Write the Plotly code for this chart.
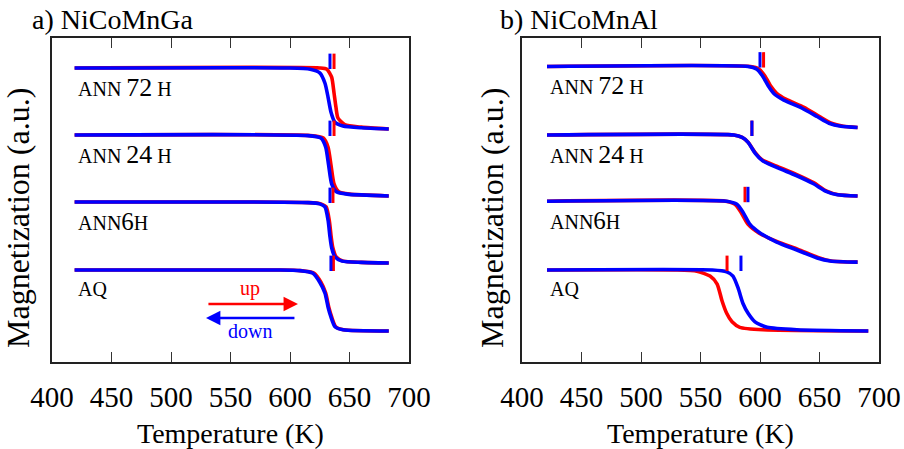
import plotly.graph_objects as go

# ---------------- data ----------------
temps_ticks = [400, 450, 500, 550, 600, 650, 700]
sample_labels = ["AQ", "ANN6H", "ANN 24 H", "ANN 72 H"]

# NiCoMnGa (panel a): (T [K], normalised magnetization)
ga_aq_up = [(419, 1.0), (591, 1.0), (609, 0.99), (620, 0.95), (626, 0.80), (630, 0.62), (632.6, 0.39), (635, 0.23), (638.4, 0.07), (645, 0.02), (683, 0.0)]
ga_aq_down = [(419, 1.0), (590, 1.0), (608, 0.99), (619, 0.95), (625, 0.80), (629.4, 0.62), (632, 0.39), (634.4, 0.23), (637.8, 0.07), (644.5, 0.02), (683, 0.0)]
ga_6h_up = [(419, 1.0), (616, 0.99), (626, 0.97), (630.4, 0.92), (633, 0.70), (634.6, 0.43), (636, 0.25), (638.8, 0.10), (644.7, 0.03), (660, 0.01), (683, 0.0)]
ga_6h_down = [(419, 1.0), (615, 0.99), (625, 0.97), (629.4, 0.92), (632, 0.70), (633.6, 0.43), (635, 0.25), (637.8, 0.10), (643.7, 0.03), (660, 0.01), (683, 0.0)]
ga_24h_up = [(419, 1.0), (617, 0.99), (628, 0.95), (632, 0.80), (634.5, 0.50), (637, 0.20), (641, 0.07), (650, 0.03), (683, 0.0)]
ga_24h_down = [(419, 1.0), (615, 0.99), (626, 0.95), (630, 0.80), (632.5, 0.50), (635, 0.20), (639, 0.07), (648, 0.03), (683, 0.0)]
ga_72h_up = [(419, 1.0), (625, 1.0), (631, 0.98), (635, 0.85), (637, 0.59), (638.6, 0.36), (640.3, 0.18), (646, 0.07), (660, 0.03), (683, 0.0)]
ga_72h_down = [(419, 1.0), (600, 1.0), (617, 0.98), (625, 0.92), (629.4, 0.75), (632, 0.52), (634.4, 0.28), (637.8, 0.11), (644.5, 0.05), (660, 0.02), (683, 0.0)]
ga_tc_up = [636.5, 636.1, 637.0, 637.0]
ga_tc_down = [634.4, 633.6, 633.6, 633.6]

# NiCoMnAl (panel b)
al_aq_up = [(421, 1.0), (530, 1.0), (547, 0.98), (558, 0.90), (564, 0.77), (568, 0.50), (572, 0.29), (576.5, 0.15), (583, 0.06), (602.5, 0.02), (691, 0.0)]
al_aq_down = [(421, 1.0), (560, 1.0), (572, 0.97), (577.3, 0.90), (581.5, 0.71), (585.7, 0.45), (590, 0.29), (595.8, 0.15), (606, 0.06), (631, 0.02), (691, 0.0)]
al_6h_up = [(421, 1.0), (571, 1.0), (579, 0.95), (584, 0.82), (590, 0.62), (599, 0.48), (614, 0.34), (632, 0.21), (650, 0.07), (660, 0.02), (682, 0.0)]
al_6h_down = [(421, 1.0), (572, 1.0), (580.6, 0.95), (585.7, 0.82), (591.6, 0.62), (600, 0.48), (614, 0.33), (631, 0.20), (648, 0.07), (659, 0.02), (682, 0.0)]
al_24h_up = [(421, 1.0), (578, 1.0), (585, 0.96), (590, 0.88), (596, 0.71), (602, 0.59), (615, 0.48), (630, 0.36), (645, 0.22), (656, 0.08), (666, 0.02), (682, 0.0)]
al_24h_down = [(421, 1.0), (578, 1.0), (585, 0.96), (590, 0.88), (596, 0.70), (602, 0.58), (615, 0.46), (630, 0.34), (645, 0.20), (655, 0.08), (665, 0.02), (682, 0.0)]
al_72h_up = [(421, 1.0), (592, 1.0), (599, 0.96), (604, 0.85), (609, 0.68), (614, 0.56), (622, 0.46), (637, 0.33), (650, 0.18), (660, 0.07), (670, 0.02), (682, 0.0)]
al_72h_down = [(421, 1.0), (590, 1.0), (597, 0.96), (602, 0.85), (607, 0.68), (612, 0.55), (620, 0.45), (635, 0.32), (648, 0.18), (658, 0.07), (668, 0.02), (682, 0.0)]
al_tc_up = [572.3, 587.4, 593.2, 603.0]
al_tc_down = [584.0, 589.9, 593.2, 600.0]

# ---------------- styling / layout constants ----------------
FONT = "Liberation Serif"
RED = "#ff0000"
BLUE = "#0000ff"
W, H = 904, 449
AMP = 0.91
YMAX = 4.836

panels = [
    dict(xa="x", ya="y", ups=[ga_aq_up, ga_6h_up, ga_24h_up, ga_72h_up],
         downs=[ga_aq_down, ga_6h_down, ga_24h_down, ga_72h_down],
         tcu=ga_tc_up, tcd=ga_tc_down, offs=[0.463, 1.478, 2.478, 3.478], lx=420.5),
    dict(xa="x2", ya="y2", ups=[al_aq_up, al_6h_up, al_24h_up, al_72h_up],
         downs=[al_aq_down, al_6h_down, al_24h_down, al_72h_down],
         tcu=al_tc_up, tcd=al_tc_down, offs=[0.463, 1.49, 2.478, 3.50], lx=421.5),
]

rich = ["AQ",
        "ANN<span style='font-size:25px'>6</span>H",
        "ANN <span style='font-size:26px'>24</span> H",
        "ANN <span style='font-size:26px'>72</span> H"]

fig = go.Figure()
annotations = []
for p in panels:
    for curves, col in ((p["ups"], RED), (p["downs"], BLUE)):
        for k, c in enumerate(curves):
            fig.add_trace(go.Scatter(
                x=[t for t, m in c], y=[p["offs"][k] + AMP * m for t, m in c],
                mode="lines", line=dict(color=col, width=3.6, shape="spline", smoothing=0.6),
                xaxis=p["xa"], yaxis=p["ya"], showlegend=False, hoverinfo="skip"))
    for tcs, col, in ((p["tcu"], RED), (p["tcd"], BLUE)):
        fig.add_trace(go.Scatter(
            x=tcs, y=[o + AMP + 0.1 for o in p["offs"]], mode="markers",
            marker=dict(symbol="line-ns", size=11, line=dict(color=col, width=3)),
            xaxis=p["xa"], yaxis=p["ya"], showlegend=False, hoverinfo="skip"))
    for k, o in enumerate(p["offs"]):
        annotations.append(dict(
            x=p["lx"], y=o + AMP - 0.29, xref=p["xa"], yref=p["ya"], text=rich[k],
            showarrow=False, xanchor="left", yanchor="middle",
            font=dict(family=FONT, size=20, color="black")))

# up / down arrows in panel a
annotations += [
    dict(x=606.7, y=0.866, ax=530.2, ay=0.866, xref="x", yref="y", axref="x", ayref="y",
         showarrow=True, arrowhead=2, arrowsize=1.2, arrowwidth=2.4, arrowcolor=RED, text=""),
    dict(x=529.4, y=0.657, ax=605.0, ay=0.657, xref="x", yref="y", axref="x", ayref="y",
         showarrow=True, arrowhead=2, arrowsize=1.2, arrowwidth=2.4, arrowcolor=BLUE, text=""),
    dict(x=566, y=1.10, xref="x", yref="y", text="up", showarrow=False,
         font=dict(family=FONT, size=20, color=RED)),
    dict(x=566, y=0.46, xref="x", yref="y", text="down", showarrow=False,
         font=dict(family=FONT, size=20, color=BLUE)),
]

# titles
annotations += [
    dict(x=30 / W, y=1 - 20 / H, xref="paper", yref="paper", text="a) NiCoMnGa", showarrow=False,
         xanchor="left", yanchor="middle", font=dict(family=FONT, size=28, color="black")),
    dict(x=498 / W, y=1 - 20 / H, xref="paper", yref="paper", text="b) NiCoMnAl", showarrow=False,
         xanchor="left", yanchor="middle", font=dict(family=FONT, size=28, color="black")),
    dict(x=231 / W, y=1 - 433 / H, xref="paper", yref="paper", text="Temperature (K)", showarrow=False,
         xanchor="center", yanchor="middle", font=dict(family=FONT, size=28, color="black")),
    dict(x=700 / W, y=1 - 433 / H, xref="paper", yref="paper", text="Temperature (K)", showarrow=False,
         xanchor="center", yanchor="middle", font=dict(family=FONT, size=28, color="black")),
    dict(x=18 / W, y=1 - 218 / H, xref="paper", yref="paper", text="Magnetization (a.u.)", showarrow=False,
         textangle=-90, xanchor="center", yanchor="middle", font=dict(family=FONT, size=32, color="black")),
    dict(x=492 / W, y=1 - 218 / H, xref="paper", yref="paper", text="Magnetization (a.u.)", showarrow=False,
         textangle=-90, xanchor="center", yanchor="middle", font=dict(family=FONT, size=32, color="black")),
]

xcommon = dict(range=[400, 700], tickvals=temps_ticks, ticks="inside", ticklen=10, tickwidth=1.2,
               tickcolor="#333", showline=True, linecolor="#222", linewidth=1.6, mirror="ticks",
               showgrid=False, zeroline=False, ticklabelstandoff=8, automargin=False,
               tickfont=dict(family=FONT, size=29, color="black"))
ycommon = dict(range=[0, YMAX], showticklabels=False, ticks="", showline=True, linecolor="#222",
               linewidth=1.6, mirror=True, showgrid=False, zeroline=False, automargin=False)

yd = [(H - 362) / H, (H - 38) / H]
fig.update_layout(
    width=W, height=H, margin=dict(l=0, r=0, t=0, b=0, autoexpand=False),
    paper_bgcolor="white", plot_bgcolor="white", showlegend=False,
    xaxis=dict(domain=[52 / W, 409 / W], anchor="y", **xcommon),
    yaxis=dict(domain=yd, anchor="x", **ycommon),
    xaxis2=dict(domain=[522 / W, 879 / W], anchor="y2", **xcommon),
    yaxis2=dict(domain=yd, anchor="x2", **ycommon),
    annotations=annotations,
)

fig.write_html("out.html")
